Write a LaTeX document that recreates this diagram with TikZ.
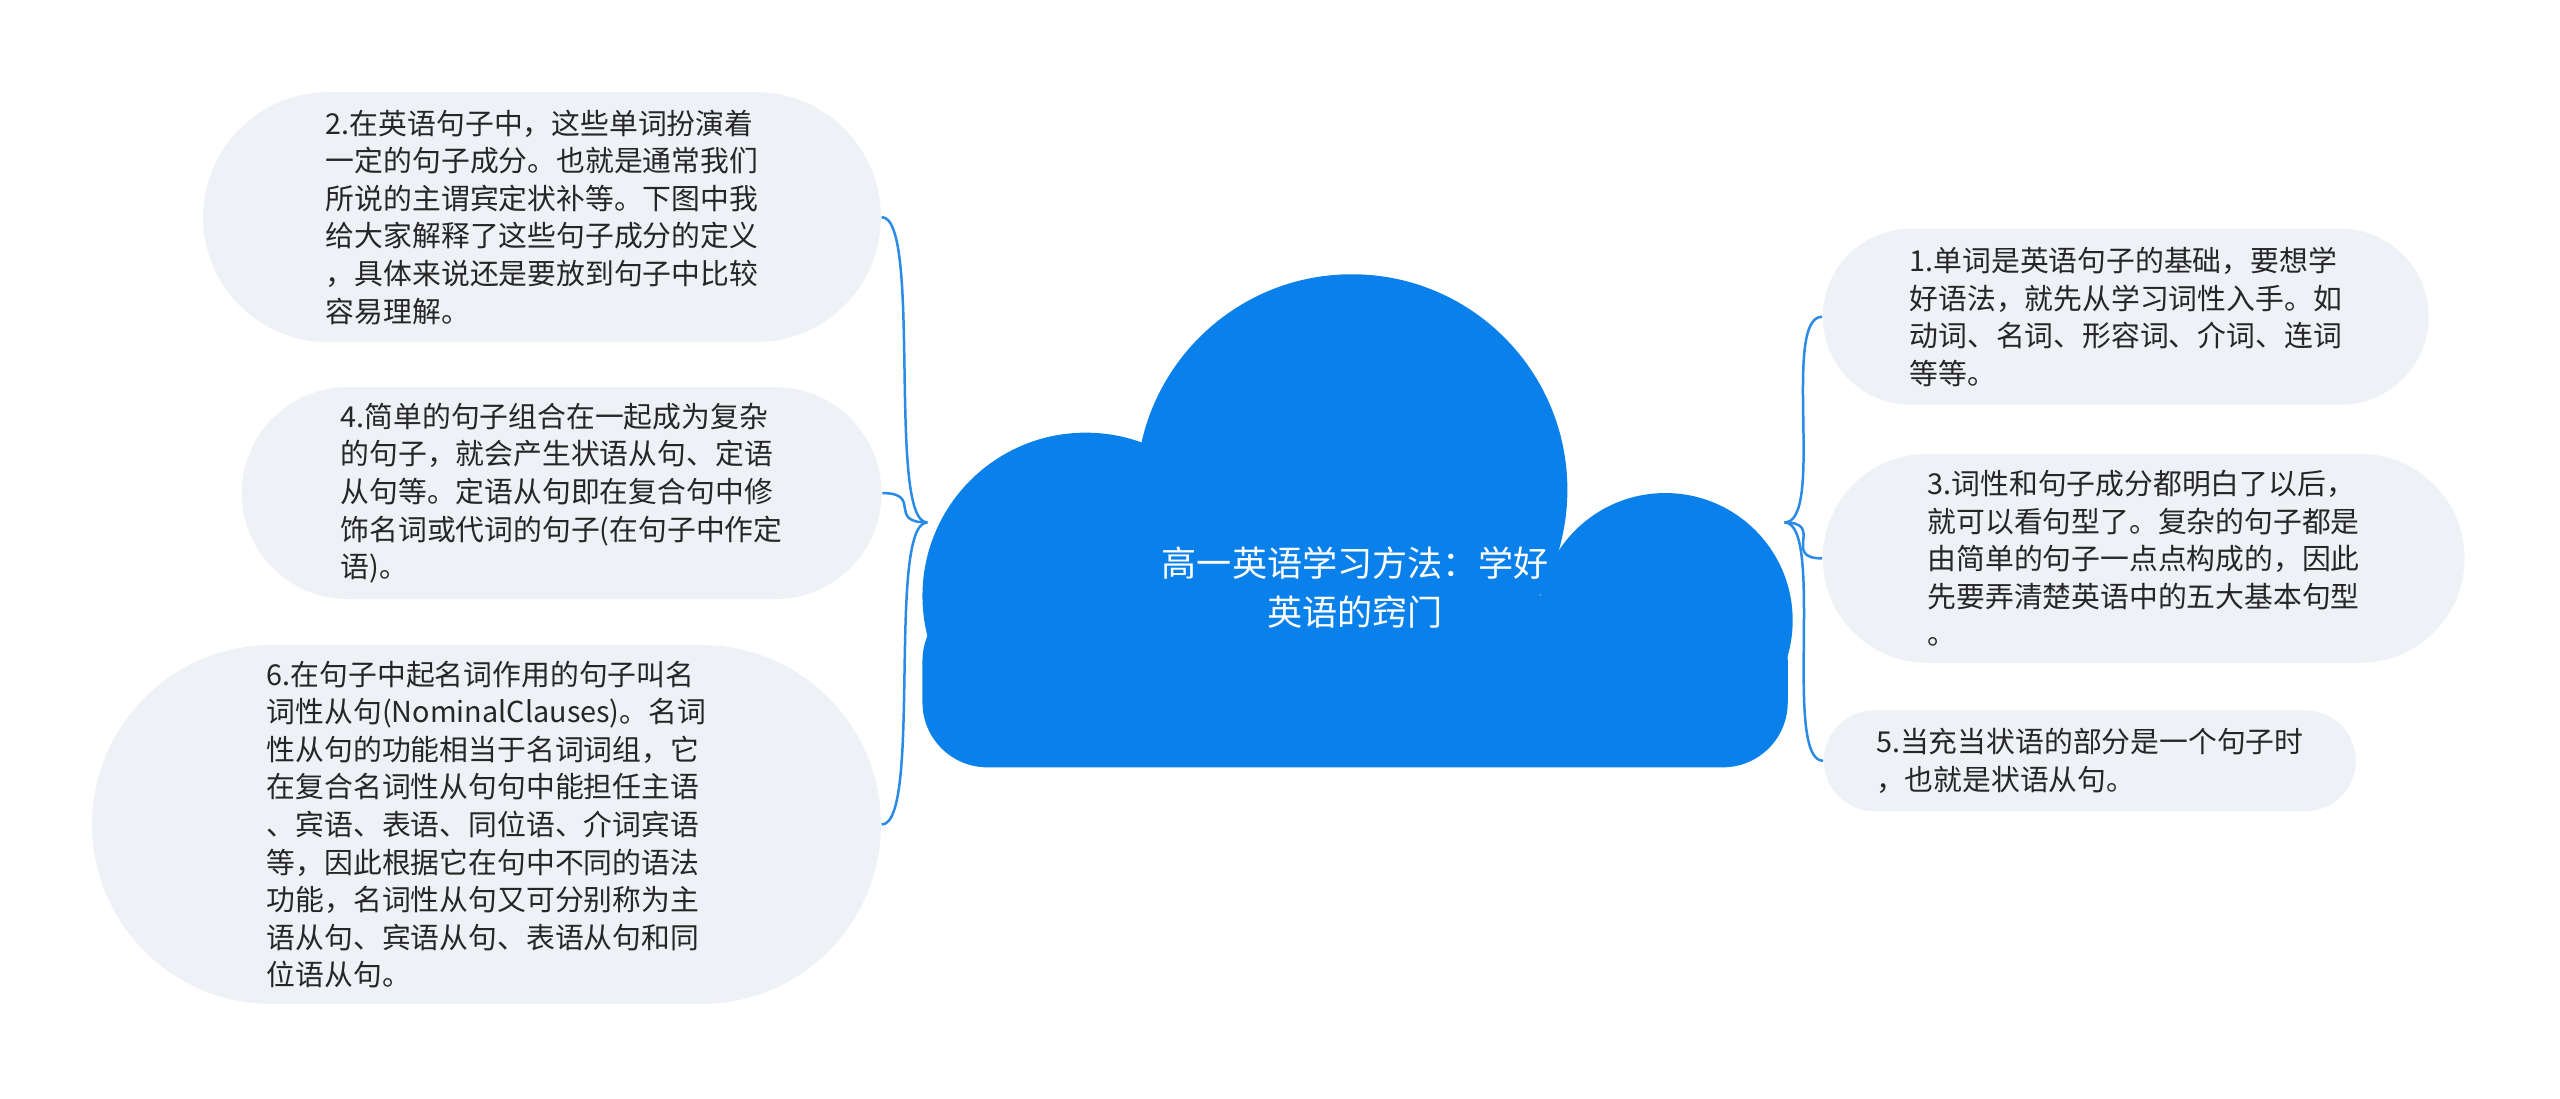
\documentclass[tikz,border=0pt]{standalone}
\usepackage{fontspec}
\setmainfont{Noto Sans CJK SC}
\usetikzlibrary{shapes.misc}
\definecolor{cloudblue}{HTML}{0A80EA}
\definecolor{leafgray}{HTML}{EEF1F5}
\definecolor{linkblue}{HTML}{2A8BE6}
\tikzset{
  leaf/.style={rounded rectangle, fill=leafgray, align=left, inner sep=0pt,
    font=\fontsize{8.2pt}{10.7pt}\selectfont, text=black!85},
  link/.style={linkblue, line width=0.25mm}
}
\begin{document}
\begin{tikzpicture}[x=0.1633mm,y=-0.1633mm]
\useasboundingbox (0,0) rectangle (1568,673);
% cloud
\fill[cloudblue] (665,365) circle (16.33mm);
\fill[cloudblue] (828,300) circle (21.56mm);
\fill[cloudblue] (1020,380) circle (12.74mm);
\fill[cloudblue, rounded corners=6.5mm] (565,365) rectangle (1095,470);
\node[text=white, align=center, font=\fontsize{10pt}{14pt}\selectfont] (root) at (830,360)
  {高一英语学习方法：学好\\英语的窍门};
\coordinate (cl) at (568,320);
\coordinate (cr) at (1093,320);

% left side
\node[leaf, minimum width=67.8mm, minimum height=25mm] (l1) at (332,133)
  {2.在英语句子中，这些单词扮演着\\一定的句子成分。也就是通常我们\\所说的主谓宾定状补等。下图中我\\给大家解释了这些句子成分的定义\\，具体来说还是要放到句子中比较\\容易理解。};
\node[leaf, minimum width=64mm, minimum height=21.2mm] (l2) at (344,302)
  {4.简单的句子组合在一起成为复杂\\的句子，就会产生状语从句、定语\\从句等。定语从句即在复合句中修\\饰名词或代词的句子(在句子中作定\\语)。};
\node[leaf, minimum width=78.9mm, minimum height=35.9mm] (l3) at (298,505)
  {6.在句子中起名词作用的句子叫名\\词性从句(NominalClauses)。名词\\性从句的功能相当于名词词组，它\\在复合名词性从句句中能担任主语\\、宾语、表语、同位语、介词宾语\\等，因此根据它在句中不同的语法\\功能，名词性从句又可分别称为主\\语从句、宾语从句、表语从句和同\\位语从句。};

% right side
\node[leaf, minimum width=60.6mm, minimum height=17.6mm] (r1) at (1302,194)
  {1.单词是英语句子的基础，要想学\\好语法，就先从学习词性入手。如\\动词、名词、形容词、介词、连词\\等等。};
\node[leaf, minimum width=64.2mm, minimum height=20.9mm] (r2) at (1313,342)
  {3.词性和句子成分都明白了以后，\\就可以看句型了。复杂的句子都是\\由简单的句子一点点构成的，因此\\先要弄清楚英语中的五大基本句型\\。};
\node[leaf, minimum width=53.2mm, minimum height=10.1mm] (r3) at (1280,466)
  {5.当充当状语的部分是一个句子时\\，也就是状语从句。};

% links
\foreach \n in {l1,l2,l3}
  \draw[link] (cl) .. controls +(-25,0) and +(25,0) .. (\n.east);
\foreach \n in {r1,r2,r3}
  \draw[link] (cr) .. controls +(25,0) and +(-25,0) .. (\n.west);
\end{tikzpicture}
\end{document}
